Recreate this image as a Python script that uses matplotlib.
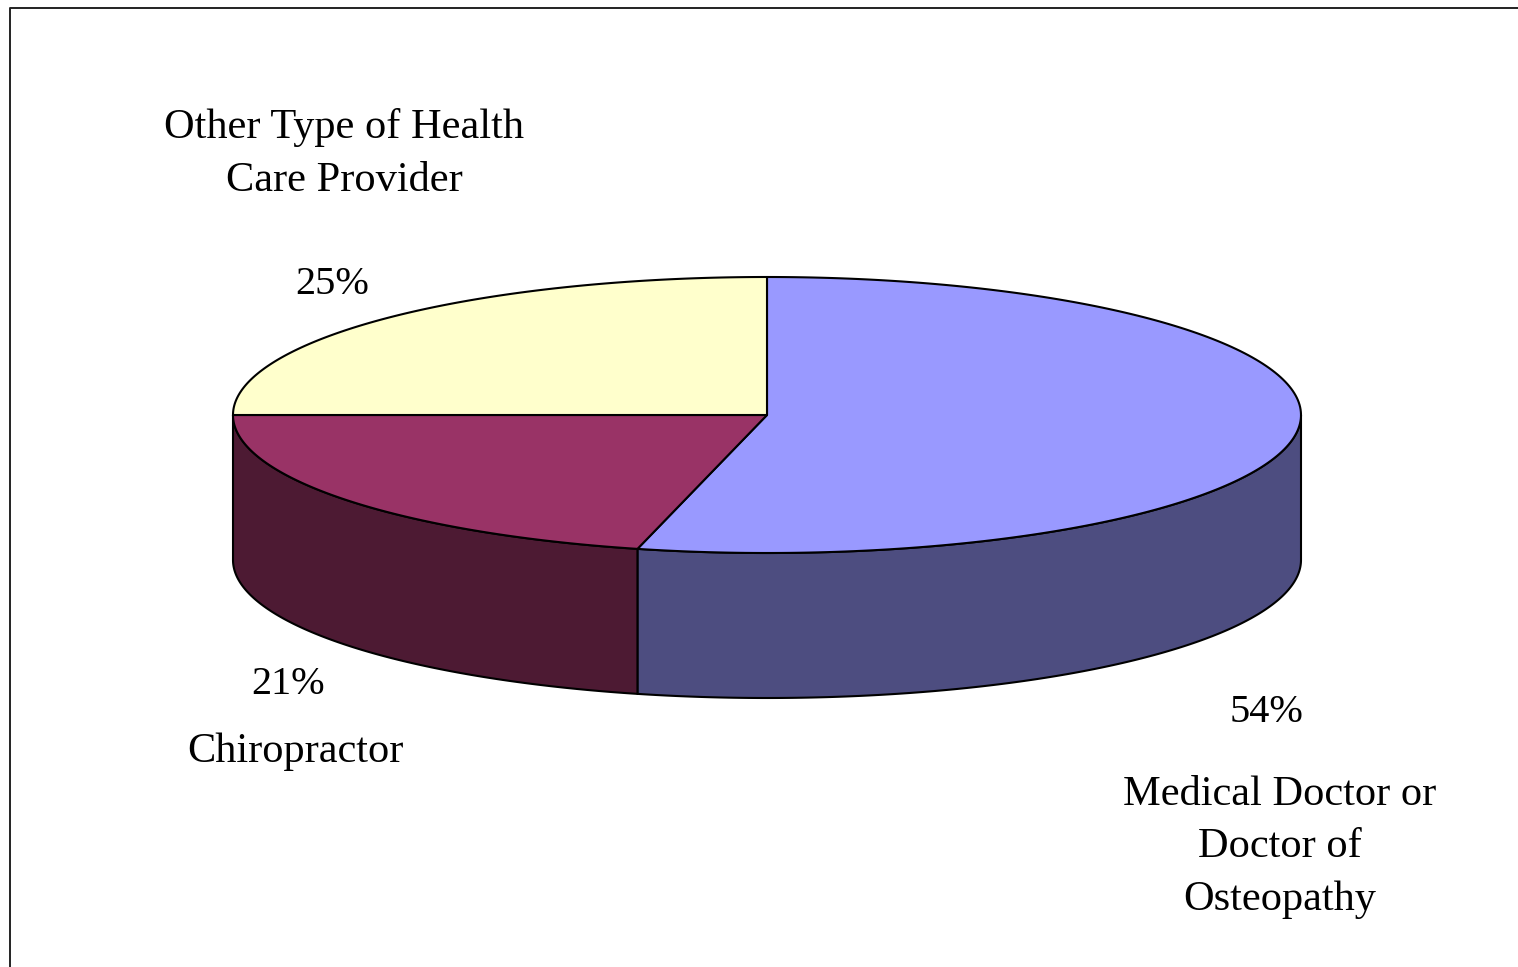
import numpy as np
import matplotlib
matplotlib.use('Agg')
from matplotlib import pyplot as plt
from matplotlib.patches import Polygon

plt.rcParams['font.family'] = ['Liberation Serif', 'DejaVu Serif']

# slices go clockwise from 12 o'clock
labels = ['Medical Doctor or\nDoctor of\nOsteopathy', 'Chiropractor', 'Other Type of Health\nCare Provider']
shares = [53.9, 21.1, 25]
top_colors = ['#9999ff', '#993366', '#ffffcc']
side_colors = ['#4d4d80', '#4d1a33', '#808066']

# pie geometry in image pixels
cx, cy = 767, 415
rx, ry = 534, 138
depth = 145


def rim(a0, a1, drop=0):
    t = np.radians(np.linspace(a0, a1, 200))
    return np.column_stack([cx + rx * np.sin(t), cy - ry * np.cos(t) + drop])


fig = plt.figure(figsize=(15.18, 9.67), dpi=100)
ax = fig.add_axes([0, 0, 1, 1])
ax.set_xlim(0, 1518)
ax.set_ylim(967, 0)
ax.axis('off')

# outer frame, no right side in the picture
ax.plot([10, 10, 1518], [967, 8, 8], color='#222222', lw=1.4)

edges = np.cumsum([0] + shares) * 3.6

# side walls, only the front half (90 to 270 degrees) shows
for i in range(len(shares)):
    a0, a1 = max(edges[i], 90), min(edges[i + 1], 270)
    if a0 >= a1:
        continue
    pts = np.vstack([rim(a0, a1), rim(a0, a1, depth)[::-1]])
    ax.add_patch(Polygon(pts, closed=True, fc=side_colors[i], ec='black', lw=1.5, joinstyle='round'))

# top face
for i in range(len(shares)):
    pts = np.vstack([[cx, cy], rim(edges[i], edges[i + 1])])
    ax.add_patch(Polygon(pts, closed=True, fc=top_colors[i], ec='black', lw=1.5, joinstyle='round'))

fs = 30.5
pct = 29
ax.text(344, 154, labels[2], ha='center', va='center', fontsize=fs, linespacing=1.48)
ax.text(332, 285, f'{shares[2]:.0f}%', ha='center', va='center', fontsize=pct)
ax.text(288, 684, f'{shares[1]:.0f}%', ha='center', va='center', fontsize=pct)
ax.text(295, 752, labels[1], ha='center', va='center', fontsize=fs)
ax.text(1267, 713, f'{shares[0]:.0f}%', ha='center', va='center', fontsize=pct)
ax.text(1280, 847, labels[0], ha='center', va='center', fontsize=fs, linespacing=1.48)

fig.savefig('out.png', dpi=100)
